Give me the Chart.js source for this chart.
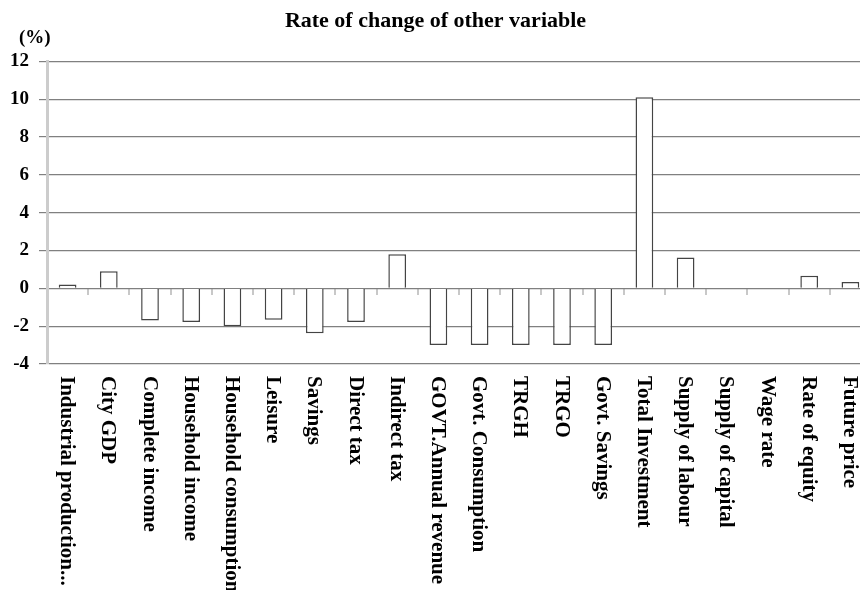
<!DOCTYPE html>
<html>
<head>
<meta charset="utf-8">
<script src="https://cdn.jsdelivr.net/npm/chart.js@4/dist/chart.umd.min.js"></script>
<style>
  html, body { margin: 0; padding: 0; background: #fff; overflow: hidden; }
  #wrap { width: 880px; height: 590px; }
</style>
</head>
<body>
<div id="wrap"><canvas id="rateChart" width="880" height="590"></canvas></div>
<script>
const categories = [
    'Industrial production...', 'City GDP', 'Complete income', 'Household income',
    'Household consumption', 'Leisure', 'Savings', 'Direct tax', 'Indirect tax',
    'GOVT.Annual revenue', 'Govt. Consumption', 'TRGH', 'TRGO', 'Govt. Savings',
    'Total Investment', 'Supply of labour', 'Supply of capital', 'Wage rate',
    'Rate of equity', 'Future price'
];
const rateValues = [
    0.2, 0.9, -1.7, -1.78, -2.0, -1.66, -2.37, -1.78, 1.8,
    -3.0, -3.0, -3.0, -3.0, -3.0, 10.1, 1.63, 0, 0, 0.67, 0.33
];
const yTicks = [-4, -2, 0, 2, 4, 6, 8, 10, 12];

const serif = '"Liberation Serif", "Times New Roman", serif';

// category labels read top-to-bottom under the plot, plus the (%) unit
const sideLabels = {
    id: 'sideLabels',
    afterDraw(chart) {
        const ctx = chart.ctx;
        const xs = chart.scales.x;
        const area = chart.chartArea;
        ctx.save();
        ctx.fillStyle = '#000';
        ctx.font = 'bold 21px ' + serif;
        ctx.textAlign = 'left';
        ctx.textBaseline = 'middle';
        categories.forEach((lab, i) => {
            const x = xs.getPixelForValue(i);
            ctx.save();
            ctx.translate(x - 1, area.bottom + 12);
            ctx.rotate(Math.PI / 2);
            ctx.fillText(lab, 0, 0);
            ctx.restore();
        });
        ctx.font = 'bold 19px ' + serif;
        ctx.textBaseline = 'middle';
        ctx.fillText('(%)', 19, 38);
        ctx.restore();
    }
};

const ctx = document.getElementById('rateChart').getContext('2d');
new Chart(ctx, {
    type: 'bar',
    data: {
        labels: categories,
        datasets: [{
            label: 'Rate of change',
            data: rateValues,
            backgroundColor: '#ffffff',
            borderColor: '#444444',
            borderWidth: 1.5,
            barPercentage: 0.43,
            categoryPercentage: 1
        }]
    },
    options: {
        responsive: false,
        animation: false,
        layout: {
            padding: { left: 0, right: 9, top: 0, bottom: 226 }
        },
        plugins: {
            legend: { display: false },
            tooltip: { enabled: false },
            title: {
                display: true,
                text: 'Rate of change of other variable',
                color: '#000',
                font: { family: serif, size: 22, weight: 'bold' },
                padding: { top: 8, bottom: 27 }
            }
        },
        scales: {
            x: {
                type: 'category',
                position: { y: 0 },
                offset: true,
                grid: {
                    offset: true,
                    drawOnChartArea: false,
                    tickLength: 7,
                    color: '#c8c8c8',
                    lineWidth: 2
                },
                border: { display: false },
                ticks: { display: false }
            },
            y: {
                min: -4,
                max: 12,
                afterBuildTicks: (scale) => {
                    scale.ticks = yTicks.map(v => ({ value: v }));
                },
                grid: {
                    color: '#808080',
                    lineWidth: 1.2,
                    tickLength: 8
                },
                border: { color: '#cccccc', width: 3 },
                ticks: {
                    color: '#000',
                    padding: 10,
                    font: { family: serif, size: 19, weight: 'bold' }
                }
            }
        }
    },
    plugins: [sideLabels]
});
</script>
</body>
</html>
